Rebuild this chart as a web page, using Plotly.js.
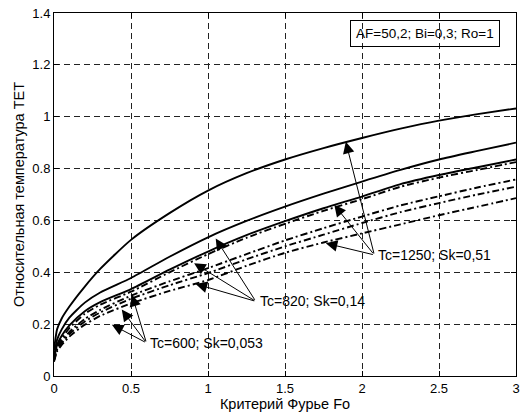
<!DOCTYPE html>
<html>
<head>
<meta charset="utf-8">
<script src="https://cdn.plot.ly/plotly-3.0.1.min.js"></script>
<style>html,body{margin:0;padding:0;background:#fff;}#chart{width:520px;height:416px;}</style>
</head>
<body>
<div id="chart"></div>
<script>
// Fourier criterion values
var fo = [0, 0.02, 0.05, 0.1, 0.2, 0.3, 0.5, 0.75, 1, 1.25, 1.5, 1.75, 2, 2.25, 2.5, 2.75, 3];
// solid curves
var solid1 = [0.10, 0.18, 0.222, 0.268, 0.345, 0.413, 0.525, 0.628, 0.715, 0.782, 0.835, 0.879, 0.918, 0.954, 0.985, 1.01, 1.032];
var solid2 = [0.07, 0.14, 0.18, 0.225, 0.283, 0.322, 0.378, 0.46, 0.535, 0.598, 0.653, 0.703, 0.75, 0.795, 0.835, 0.868, 0.9];
var solid3 = [0.065, 0.12, 0.155, 0.195, 0.25, 0.285, 0.335, 0.41, 0.48, 0.543, 0.597, 0.647, 0.692, 0.74, 0.775, 0.805, 0.835];
// dash-dot curves
var dd0 = [0.062, 0.112, 0.145, 0.185, 0.24, 0.275, 0.325, 0.4, 0.47, 0.533, 0.587, 0.637, 0.682, 0.73, 0.765, 0.795, 0.825];
var dd1 = [0.06, 0.105, 0.135, 0.17, 0.22, 0.255, 0.31, 0.365, 0.416, 0.47, 0.523, 0.57, 0.615, 0.658, 0.693, 0.727, 0.758];
var dd2 = [0.06, 0.1, 0.128, 0.162, 0.21, 0.245, 0.298, 0.35, 0.397, 0.45, 0.5, 0.545, 0.59, 0.632, 0.667, 0.7, 0.73];
var dd3 = [0.055, 0.095, 0.12, 0.152, 0.198, 0.232, 0.28, 0.328, 0.37, 0.425, 0.475, 0.515, 0.55, 0.585, 0.62, 0.653, 0.686];

// labels
var boxText = 'AF=50,2; Bi=0,3; Ro=1';
var groupLabels = ['Tc=1250; Sk=0,51', 'Tc=820; Sk=0,14', 'Tc=600; Sk=0,053'];
var groupTailX = [2.08, 1.31, 0.60];
var groupTailY = [0.467, 0.288, 0.128];
var arrowTipX = [[1.895, 1.82, 1.765], [1.05, 0.91, 0.92], [0.506, 0.44, 0.376]];
var arrowTipY = [[0.903, 0.66, 0.512], [0.53, 0.435, 0.355], [0.313, 0.256, 0.198]];

var FONT = 'Liberation Sans, Arial, sans-serif';

function line(y, dash) {
  return {x: fo, y: y, type: 'scatter', mode: 'lines', line: {color: '#000', width: 1.9, dash: dash, shape: 'spline', smoothing: 0.6}, hoverinfo: 'skip', showlegend: false};
}
var traces = [
  line(solid1, 'solid'), line(solid2, 'solid'), line(solid3, 'solid'),
  line(dd0, '7px,3px,2px,3px'), line(dd1, '7px,3px,2px,3px'), line(dd2, '7px,3px,2px,3px'), line(dd3, '7px,3px,2px,3px')
];

var ann = [];
for (var g = 0; g < groupLabels.length; g++) {
  for (var k = 0; k < arrowTipX[g].length; k++) {
    ann.push({x: arrowTipX[g][k], y: arrowTipY[g][k], xref: 'x', yref: 'y',
      ax: groupTailX[g], ay: groupTailY[g], axref: 'x', ayref: 'y',
      text: '', showarrow: true, arrowhead: 2, arrowsize: 2.3, arrowwidth: 1, arrowcolor: '#000', standoff: 0, startstandoff: 0});
  }
  ann.push({x: groupTailX[g], y: groupTailY[g], xref: 'x', yref: 'y', text: groupLabels[g],
    showarrow: false, xanchor: 'left', yanchor: 'middle', xshift: 2,
    font: {family: FONT, size: 14, color: '#000'}});
}
ann.push({x: 2.41, y: 1.321, xref: 'x', yref: 'y', text: boxText, showarrow: false,
  xanchor: 'center', yanchor: 'middle', bordercolor: '#000', borderwidth: 1, borderpad: 5,
  bgcolor: 'rgba(0,0,0,0)', font: {family: FONT, size: 13.5, color: '#000'}});

var axisCommon = {
  showline: true, linecolor: '#000', linewidth: 1, mirror: 'ticks',
  ticks: 'inside', ticklen: 5, tickcolor: '#000',
  showgrid: true, gridcolor: '#222', gridwidth: 1, griddash: '6px,4px',
  zeroline: false, tickfont: {family: FONT, size: 13, color: '#000'}
};

var layout = {
  width: 520, height: 416,
  margin: {l: 54, r: 4, t: 13, b: 40},
  paper_bgcolor: '#fff', plot_bgcolor: '#fff',
  font: {family: FONT, size: 13, color: '#000'},
  xaxis: Object.assign({}, axisCommon, {range: [0, 3], dtick: 0.5, tick0: 0,
    title: {text: 'Критерий Фурье Fo', font: {family: FONT, size: 14.5, color: '#000'}, standoff: 1}}),
  yaxis: Object.assign({}, axisCommon, {range: [0, 1.4], dtick: 0.2, tick0: 0,
    title: {text: 'Относительная температура ТЕТ', font: {family: FONT, size: 14.5, color: '#000'}, standoff: 4}}),
  annotations: ann,
  showlegend: false
};

Plotly.newPlot('chart', traces, layout, {staticPlot: true, displayModeBar: false});
</script>
</body>
</html>
